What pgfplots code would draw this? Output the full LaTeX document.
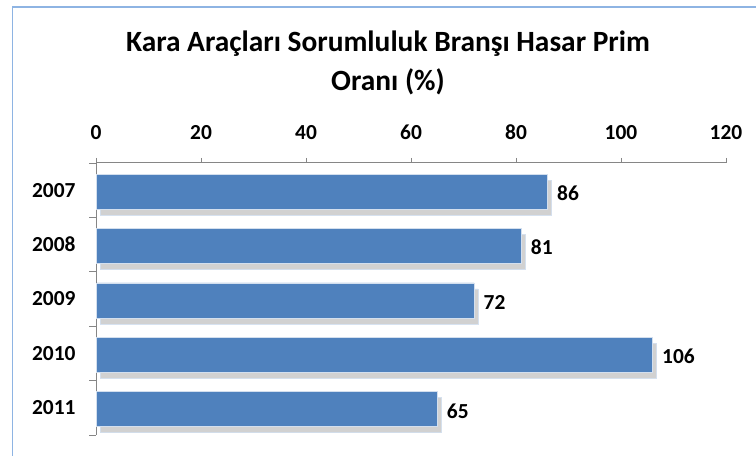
\documentclass[border=0pt]{standalone}
\usepackage{pgfplots}
\pgfplotsset{compat=1.18}
\usepackage{fontspec}
\setmainfont{Carlito}
\usetikzlibrary{shadows}
\definecolor{barblue}{HTML}{4F81BD}
\definecolor{axgray}{HTML}{868686}
\definecolor{frameblue}{HTML}{8EB4E3}
\begin{document}
\begin{tikzpicture}[x=1bp,y=1bp]
\path[use as bounding box] (0,0) rectangle (756,456);
\draw[frameblue, line width=1.5bp] (12.5,0) -- (12.5,449) -- (756,449);
\node[font=\fontsize{29.5}{38.5}\selectfont\bfseries, align=center] at (388,393) {Kara Araçları Sorumluluk Branşı Hasar Prim\\Oranı (\%)};
\begin{axis}[
  at={(96bp,21bp)}, anchor=south west,
  scale only axis, width=630bp, height=272bp,
  xbar, bar width=35bp, bar shift=-1.5bp,
  xmin=0, xmax=120, xtick={0,20,...,120},
  ymin=-0.5, ymax=4.5, y dir=reverse,
  ytick={0,1,2,3,4}, yticklabels={2007,2008,2009,2010,2011},
  minor ytick={-0.5,0.5,...,4.5},
  axis x line*=top, axis y line*=left,
  axis line style={axgray, line width=1bp},
  x axis line style={-}, y axis line style={-},
  tick align=outside,
  tick style={axgray, line width=0.8bp},
  major tick length=5bp, minor tick length=7bp,
  every major y tick/.append style={draw=none},
  /pgf/number format/assume math mode=true,
  ticklabel style={font=\fontsize{21.5}{26}\selectfont\bfseries},
  xticklabel style={yshift=15bp},
  yticklabel style={xshift=-12bp},
  nodes near coords,
  nodes near coords style={font=\fontsize{21.5}{26}\selectfont\bfseries, anchor=west, xshift=6bp, yshift=-1.5bp, black},
  every node near coord/.append style={/pgf/number format/assume math mode=true},
  clip=false,
]
\addplot[fill=barblue, draw=white!75!barblue, line width=0.8bp,
  drop shadow={shadow xshift=4bp, shadow yshift=-6bp, fill=gray!40, opacity=0.9}]
  coordinates {(86,0) (81,1) (72,2) (106,3) (65,4)};
\end{axis}
\end{tikzpicture}
\end{document}
